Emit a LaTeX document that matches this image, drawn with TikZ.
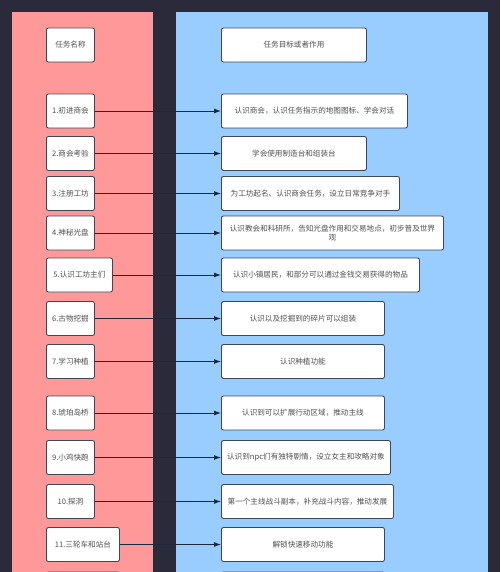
\documentclass[tikz,border=0pt]{standalone}
\usepackage{fontspec}
\newfontfamily\cjk{Noto Sans CJK SC}
\usetikzlibrary{arrows.meta}
\definecolor{bgdark}{RGB}{42,42,58}
\definecolor{panelpink}{RGB}{255,153,153}
\definecolor{panelblue}{RGB}{153,204,255}
\definecolor{boxline}{RGB}{60,72,90}
\definecolor{boxtext}{RGB}{80,80,80}
\definecolor{arrowline}{RGB}{30,40,60}

\begin{document}
\begin{tikzpicture}[x=1pt,y=-1pt,
  task/.style={draw=boxline,fill=white,line width=0.9pt,rounded corners=2pt,
    minimum height=34pt,inner sep=2pt,anchor=west,align=center,text=boxtext,
    font=\cjk\fontsize{7.6}{11}\selectfont},
  link/.style={draw=arrowline,line width=0.9pt,-{Latex[length=7pt,width=5pt]}}]
\useasboundingbox (0,0) rectangle (500,572);
\clip (0,0) rectangle (500,572);
% panels
\fill[bgdark] (0,0) rectangle (500,572);
\fill[panelpink] (12,12) rectangle (153,590);
\fill[panelblue] (176,12) rectangle (488,590);

% left column
\node[task,minimum width=48pt] (l0) at (46,45) {任务名称};
\node[task,minimum width=48pt] (l1) at (46,111) {1.初进商会};
\node[task,minimum width=48pt] (l2) at (46,153.5) {2.商会考验};
\node[task,minimum width=48pt] (l3) at (46,193.5) {3.注册工坊};
\node[task,minimum width=48pt] (l4) at (46,233) {4.神秘光盘};
\node[task,minimum width=66pt] (l5) at (46,275) {5.认识工坊主们};
\node[task,minimum width=48pt] (l6) at (46,318.5) {6.古物挖掘};
\node[task,minimum width=48pt] (l7) at (46,361.5) {7.学习种植};
\node[task,minimum width=48pt] (l8) at (46,413) {8.琥珀岛桥};
\node[task,minimum width=48pt] (l9) at (46,457.5) {9.小鸡快跑};
\node[task,minimum width=48pt] (l10) at (46,501.5) {10.探洞};
\node[task,minimum width=73pt] (l11) at (46,544.5) {11.三轮车和站台};
\node[task,minimum width=73pt] (l12) at (46,589) {};

% right column
\node[task,minimum width=145pt] (r0) at (221,45) {任务目标或者作用};
\node[task,minimum width=186pt] (r1) at (221,111) {认识商会，认识任务指示的地图图标、学会对话};
\node[task,minimum width=145pt] (r2) at (221,153.5) {学会使用制造台和组装台};
\node[task,minimum width=178pt] (r3) at (221,193.5) {为工坊起名、认识商会任务，设立日常竞争对手};
\node[task,minimum width=222pt] (r4) at (221,233) {认识教会和科研所，告知光盘作用和交易地点，初步普及世界\\[-2pt]观};
\node[task,minimum width=198pt] (r5) at (221,275) {认识小镇居民，和部分可以通过金钱交易获得的物品};
\node[task,minimum width=163pt] (r6) at (221,318.5) {认识以及挖掘到的碎片可以组装};
\node[task,minimum width=163pt] (r7) at (221,361.5) {认识种植功能};
\node[task,minimum width=163pt] (r8) at (221,413) {认识到可以扩展行动区域，推动主线};
\node[task,minimum width=169pt] (r9) at (221,457.5) {认识到npc们有独特剧情，设立女主和攻略对象};
\node[task,minimum width=172pt] (r10) at (221,501.5) {第一个主线战斗副本，补充战斗内容，推动发展};
\node[task,minimum width=163pt] (r11) at (221,544.5) {解锁快速移动功能};
\node[task,minimum width=163pt] (r12) at (221,589) {};

% connectors
\draw[link] (l1) -- (r1);
\draw[link] (l2) -- (r2);
\draw[link] (l3) -- (r3);
\draw[link] (l4) -- (r4);
\draw[link] (l5) -- (r5);
\draw[link] (l6) -- (r6);
\draw[link] (l7) -- (r7);
\draw[link] (l8) -- (r8);
\draw[link] (l9) -- (r9);
\draw[link] (l10) -- (r10);
\draw[link] (l11) -- (r11);
\end{tikzpicture}
\end{document}
